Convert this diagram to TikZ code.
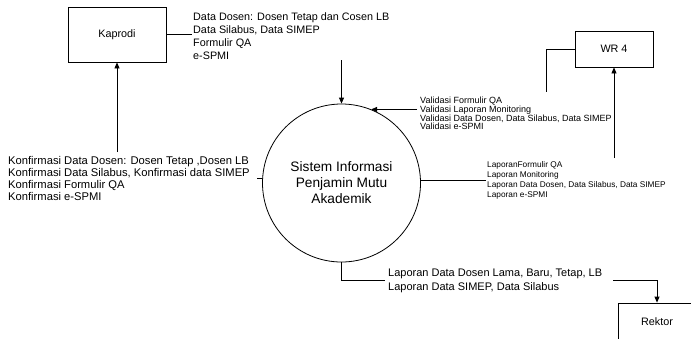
\documentclass[tikz,border=0pt]{standalone}
\usepackage{fontspec}
\setmainfont{Liberation Sans}
\usetikzlibrary{arrows.meta}

\tikzset{
  entity/.style={draw, line width=0.8pt, rectangle, inner sep=0pt, font=\fontsize{10.8}{13}\selectfont},
  process/.style={draw, line width=0.8pt, circle, minimum size=158pt, inner sep=0pt, align=center,
    font=\fontsize{13.7}{16}\selectfont},
  flow/.style={line width=0.8pt},
  flowarrow/.style={line width=0.8pt, -{Triangle[length=6pt,width=5pt]}},
  flowlabel/.style={anchor=north west, inner sep=0pt, align=left},
}

\begin{document}
\begin{tikzpicture}[x=1pt,y=-1pt]
  \useasboundingbox (0,0) rectangle (691,338);
  \clip (0,0) rectangle (691,338);

  % external entities
  \node[entity, minimum width=98pt, minimum height=55pt] (kap) at (117,34.5) {Kaprodi};
  \node[entity, minimum width=78pt, minimum height=36pt] (wr) at (614,49) {WR 4};
  \node[entity, minimum width=78pt, minimum height=38pt] (rek) at (657,322) {Rektor};

  % the process
  \node[process] (sim) at (341.5,183) {Sistem Informasi\\Penjamin Mutu\\Akademik};

  % Kaprodi -> system
  \coordinate (kapOut) at (192,34.5);
  \draw[flow] (kap.east) -- (kapOut);
  \node[flowlabel, font=\fontsize{10.8}{13}\selectfont] (kapText) at (193,12)
    {Data Dosen: Dosen Tetap dan Cosen LB\\Data Silabus, Data SIMEP\\Formulir QA\\e-SPMI};
  \coordinate (simIn) at (341.5,60);
  \draw[flowarrow] (simIn) -- (sim.north);

  % system -> Kaprodi
  \coordinate (konfEnd) at (257,0);
  \draw[flow] (sim.177) -- (sim.177 -| konfEnd);
  \node[flowlabel, font=\fontsize{11.2}{12}\selectfont] (konfText) at (8,156)
    {Konfirmasi Data Dosen: Dosen Tetap ,Dosen LB\\Konfirmasi Data Silabus, Konfirmasi data SIMEP\\Konfirmasi Formulir QA\\Konfirmasi e-SPMI};
  \coordinate (kapIn) at (117,152);
  \draw[flowarrow] (kapIn) -- (kap.south);

  % WR 4 -> system
  \coordinate (wrOut) at (546,92);
  \draw[flow] (wr.west) -| (wrOut);
  \coordinate (valStart) at (417,0);
  \draw[flowarrow] (sim.68 -| valStart) -- (sim.68);
  \node[flowlabel, font=\fontsize{9}{8.9}\selectfont] (valText) at (420,96.5)
    {Validasi Formulir QA\\Validasi Laporan Monitoring\\Validasi Data Dosen, Data Silabus, Data SIMEP\\Validasi e-SPMI};

  % system -> WR 4
  \coordinate (lapEnd) at (486,0);
  \draw[flow] (sim.2) -- (sim.2 -| lapEnd);
  \node[flowlabel, font=\fontsize{8.3}{10}\selectfont] (lapText) at (487,161.5)
    {LaporanFormulir QA\\Laporan Monitoring\\Laporan Data Dosen, Data Silabus, Data SIMEP\\Laporan e-SPMI};
  \coordinate (wrIn) at (614,158);
  \draw[flowarrow] (wrIn) -- (wr.south);

  % system -> Rektor
  \coordinate (rekA) at (385,280);
  \coordinate (rekB) at (613,280);
  \draw[flow] (sim.south) |- (rekA);
  \draw[flowarrow] (rekB) -| (rek.north);
  \node[flowlabel, font=\fontsize{11}{14}\selectfont] (rekText) at (388,268.5)
    {Laporan Data Dosen Lama, Baru, Tetap, LB\\Laporan Data SIMEP, Data Silabus};
\end{tikzpicture}
\end{document}
